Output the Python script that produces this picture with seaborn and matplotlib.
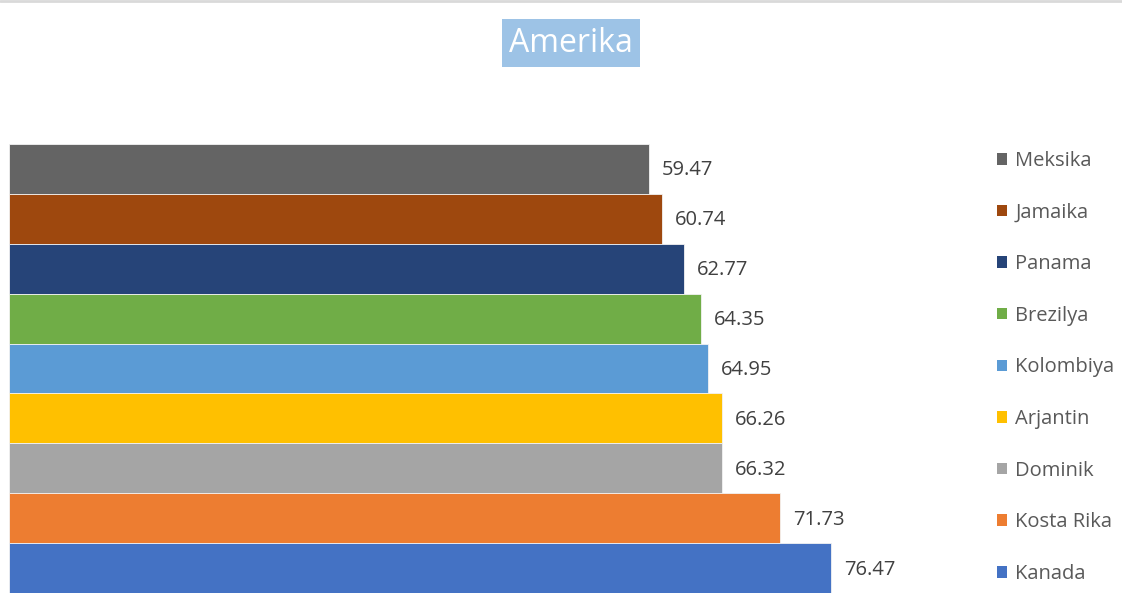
import matplotlib
matplotlib.use("Agg")
import matplotlib.pyplot as plt
import seaborn as sns
import pandas as pd
from matplotlib.patches import Patch
from matplotlib.lines import Line2D

countries = ["Meksika", "Jamaika", "Panama", "Brezilya", "Kolombiya",
             "Arjantin", "Dominik", "Kosta Rika", "Kanada"]
values = [59.47, 60.74, 62.77, 64.35, 64.95, 66.26, 66.32, 71.73, 76.47]
colors = ["#646464", "#9E480E", "#264478", "#70AD47", "#5B9BD5",
          "#FFC000", "#A5A5A5", "#ED7D31", "#4472C4"]
title = "Amerika"

sns.set_style("white")
plt.rcParams['font.family'] = ['Open Sans', 'DejaVu Sans']

df = pd.DataFrame({"country": countries, "value": values})
palette = dict(zip(countries, colors))

fig = plt.figure(figsize=(11.22, 5.95), dpi=100)
ax = fig.add_axes([9/1122, 1 - 593/595, (977 - 9)/1122, (593 - 144)/595])

sns.barplot(data=df, y="country", x="value", hue="country", palette=palette,
            order=countries, width=1.0, dodge=False, legend=False, ax=ax,
            saturation=1, linewidth=0.6, edgecolor="#F2F2F2")

for i, v in enumerate(values):
    ax.text(v + 1.2, i + 0.03, f"{v:.2f}", va="center", ha="left",
            fontsize=14.5, color="#404040")

ax.set_xlim(0, 90)
ax.set_ylim(len(countries) - 0.5, -0.5)
ax.set_xlabel("")
ax.set_ylabel("")
ax.set_xticks([])
ax.set_yticks([])
for s in ax.spines.values():
    s.set_visible(False)

handles = [Patch(facecolor=c, edgecolor="none", label=n) for n, c in zip(countries, colors)]
leg = fig.legend(handles=handles, loc="upper left",
                 bbox_to_anchor=(997/1122, 1 - 151/595), frameon=False,
                 fontsize=14.5, labelcolor="#595959", handlelength=0.5,
                 handleheight=0.5, handletextpad=0.4, labelspacing=1.57,
                 borderaxespad=0, borderpad=0)

fig.text(571/1122, 1 - 43/595, title, ha="center", va="center",
         fontsize=23, color="white",
         bbox=dict(boxstyle="square,pad=0.22", facecolor="#9DC3E6", edgecolor="none"))

fig.add_artist(Line2D([0, 1], [1 - 1/595, 1 - 1/595], color="#D9D9D9", lw=2,
                      transform=fig.transFigure))

fig.savefig("out.png", dpi=100)
